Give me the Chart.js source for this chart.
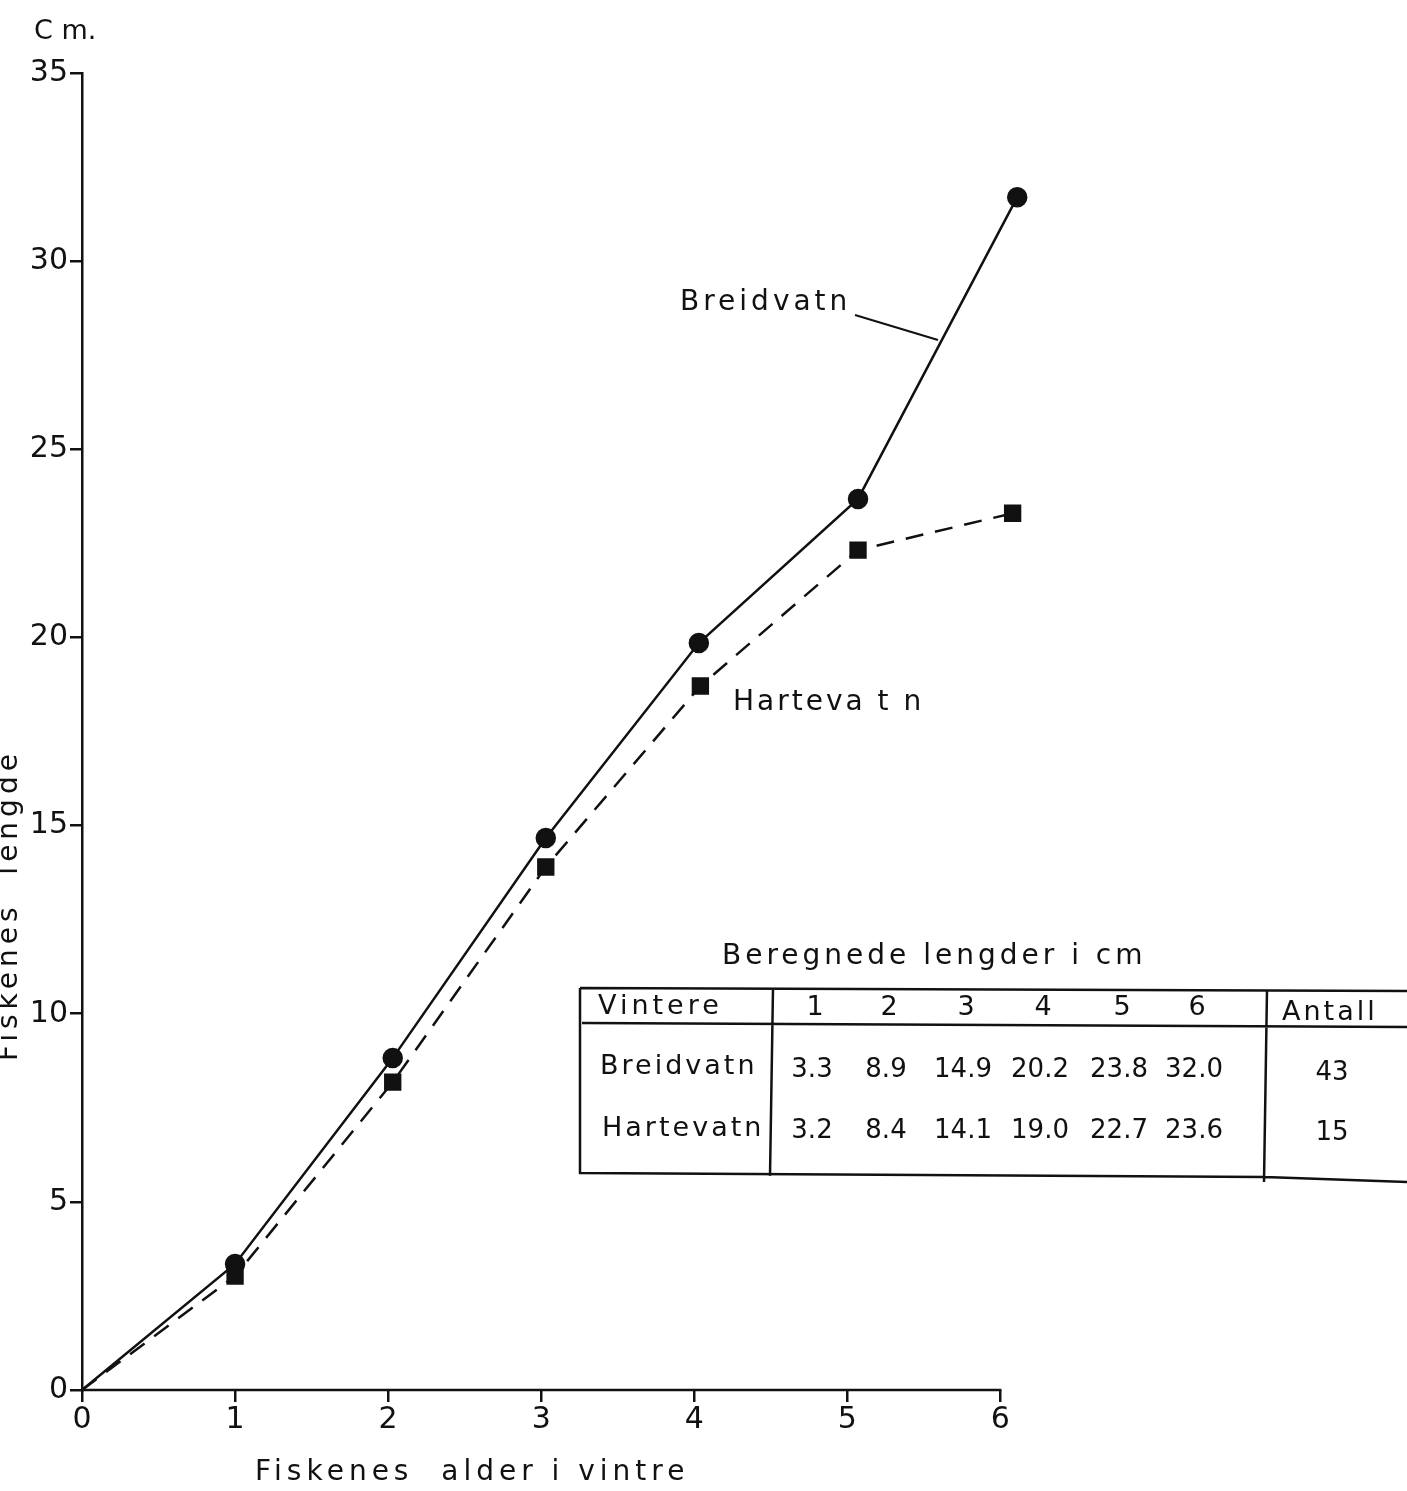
<!DOCTYPE html>
<html>
<head>
<meta charset="utf-8">
<script src="https://cdn.jsdelivr.net/npm/chart.js@4.4.1/dist/chart.umd.min.js"></script>
<style>
  html, body { margin: 0; padding: 0; background: #fff; }
  #wrap { width: 1407px; height: 1491px; position: relative; }
</style>
</head>
<body>
<div id="wrap"><canvas id="myChart"></canvas></div>
<script>
// ages as plotted (x) and lengths (y)
const breidAge = [0, 1, 2.03, 3.03, 4.03, 5.07, 6.11];
const breidLen = [0, 3.35, 8.82, 14.67, 19.85, 23.68, 31.7];
const harteAge = [0, 1, 2.03, 3.03, 4.04, 5.07, 6.08];
const harteLen = [0, 3.03, 8.18, 13.9, 18.71, 22.32, 23.3];

// table "Beregnede lengder i cm"
const tableCols = ['1', '2', '3', '4', '5', '6'];
const tableBreid = ['3.3', '8.9', '14.9', '20.2', '23.8', '32.0'];
const tableHarte = ['3.2', '8.4', '14.1', '19.0', '22.7', '23.6'];
const tableAntall = ['43', '15'];

const FONT = '"DejaVu Sans", sans-serif';
const INK = '#111';

function toPoints(xs, ys) {
    return xs.map((x, i) => ({ x: x, y: ys[i] }));
}

function spacedText(ctx, text, x, y, spacing) {
    ctx.letterSpacing = spacing + 'px';
    ctx.fillText(text, x, y);
    ctx.letterSpacing = '0px';
}

const annotations = {
    id: 'annotations',
    afterDraw(chart) {
        const ctx = chart.ctx;
        const xs = chart.scales.x, ys = chart.scales.y;
        ctx.save();
        ctx.fillStyle = INK;
        ctx.strokeStyle = INK;
        ctx.textBaseline = 'middle';

        // x axis line only up to age 6
        ctx.lineWidth = 2.5;
        ctx.beginPath();
        ctx.moveTo(xs.getPixelForValue(0), ys.bottom);
        ctx.lineTo(xs.getPixelForValue(6) + 1, ys.bottom);
        ctx.stroke();

        // unit label
        ctx.font = '27px ' + FONT;
        ctx.textAlign = 'left';
        spacedText(ctx, 'C m.', 34, 32, 0);

        // axis titles
        ctx.font = '28px ' + FONT;
        spacedText(ctx, 'Fiskenes  alder i vintre', 255, 1473, 5);
        ctx.save();
        ctx.translate(10, 905);
        ctx.rotate(-Math.PI / 2);
        ctx.textAlign = 'center';
        spacedText(ctx, 'Fiskenes  lengde', 0, 0, 5);
        ctx.restore();

        // curve labels
        ctx.font = '28px ' + FONT;
        ctx.textAlign = 'left';
        spacedText(ctx, 'Breidvatn', 680, 303, 4);
        ctx.lineWidth = 2;
        ctx.beginPath();
        ctx.moveTo(855, 315);
        ctx.lineTo(938, 340);
        ctx.stroke();
        spacedText(ctx, 'Harteva t n', 733, 703, 3);

        // table
        ctx.font = '28px ' + FONT;
        spacedText(ctx, 'Beregnede lengder i cm', 722, 957, 4);
        ctx.lineWidth = 2.5;
        ctx.beginPath();
        ctx.moveTo(580, 988); ctx.lineTo(1407, 991);
        ctx.moveTo(582, 1023); ctx.lineTo(1407, 1027);
        ctx.moveTo(580, 988); ctx.lineTo(580, 1174);
        ctx.moveTo(579, 1173); ctx.lineTo(1265, 1177);
        ctx.moveTo(1265, 1177); ctx.lineTo(1407, 1182);
        ctx.moveTo(773, 988); ctx.lineTo(770, 1176);
        ctx.moveTo(1267, 990); ctx.lineTo(1264, 1182);
        ctx.stroke();

        ctx.font = '27px ' + FONT;
        spacedText(ctx, 'Vintere', 598, 1007, 4);
        spacedText(ctx, 'Breidvatn', 600, 1067, 3);
        spacedText(ctx, 'Hartevatn', 602, 1129, 3);
        spacedText(ctx, 'Antall', 1282, 1013, 3);

        const colX = [815, 889, 966, 1043, 1122, 1197];
        ctx.textAlign = 'center';
        tableCols.forEach((c, i) => ctx.fillText(c, colX[i], 1008));
        ctx.font = '26px ' + FONT;
        tableBreid.forEach((v, i) => ctx.fillText(v, colX[i] - 3, 1070));
        tableHarte.forEach((v, i) => ctx.fillText(v, colX[i] - 3, 1131));
        ctx.fillText(tableAntall[0], 1332, 1073);
        ctx.fillText(tableAntall[1], 1332, 1133);
        ctx.restore();
    }
};

new Chart(document.getElementById('myChart').getContext('2d'), {
    type: 'scatter',
    data: {
        datasets: [
            {
                label: 'Breidvatn',
                data: toPoints(breidAge, breidLen),
                showLine: true,
                borderColor: INK,
                backgroundColor: INK,
                borderWidth: 2.5,
                pointStyle: 'circle',
                pointRadius: [0, 9, 9, 9, 9, 9, 9],
                clip: false
            },
            {
                label: 'Hartevatn',
                data: toPoints(harteAge, harteLen),
                showLine: true,
                borderColor: INK,
                backgroundColor: INK,
                borderWidth: 2.5,
                borderDash: [18, 12],
                pointStyle: 'rect',
                pointRadius: [0, 10.5, 10.5, 10.5, 10.5, 10.5, 10.5],
                clip: false
            }
        ]
    },
    options: {
        responsive: true,
        maintainAspectRatio: false,
        animation: false,
        layout: { padding: { left: 0, top: 73, right: 376, bottom: 0 } },
        plugins: {
            legend: { display: false },
            tooltip: { enabled: false }
        },
        scales: {
            x: {
                type: 'linear',
                min: 0,
                max: 6.2,
                afterFit(scale) { scale.height = 101; },
                border: { display: false },
                grid: { drawOnChartArea: false, color: INK, lineWidth: 2.5, tickLength: 12 },
                ticks: { stepSize: 1, includeBounds: false, color: INK, font: { family: FONT, size: 30 }, padding: 0 }
            },
            y: {
                type: 'linear',
                min: 0,
                max: 35,
                afterFit(scale) { scale.width = 82; },
                border: { color: INK, width: 2.5 },
                grid: { drawOnChartArea: false, color: INK, lineWidth: 2.5, tickLength: 12 },
                ticks: { stepSize: 5, color: INK, font: { family: FONT, size: 30 }, padding: 2 }
            }
        }
    },
    plugins: [annotations]
});
</script>
</body>
</html>
